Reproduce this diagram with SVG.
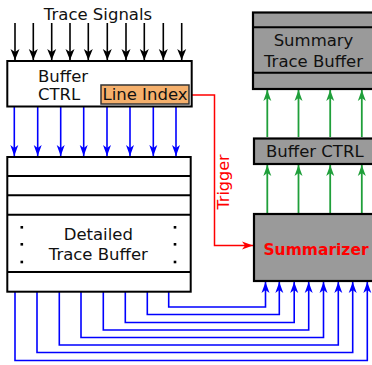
<svg xmlns="http://www.w3.org/2000/svg" width="372" height="365" viewBox="0 0 372 365">
<defs>
<style>
.t{font-family:"DejaVu Sans","Liberation Sans",sans-serif;font-size:16.5px;fill:#111}
.box{fill:#fff;stroke:#000;stroke-width:2}
.gbox{fill:#9a9a9a;stroke:#000;stroke-width:2.2}
.row{stroke:#000;stroke-width:2}
.blk{stroke:#000;stroke-width:1.6;fill:none}
.blu{stroke:#0000ff;stroke-width:1.6;fill:none}
.grn{stroke:#1f9f3a;stroke-width:1.8;fill:none}
.red{stroke:#ff0000;stroke-width:1.5;fill:none}
</style>
<marker id="ak" markerUnits="userSpaceOnUse" markerWidth="14" markerHeight="12" viewBox="-12 -6 14 12" refX="0" refY="0" orient="auto"><path d="M0,0 L-11,-4.5 L-8,0 L-11,4.5 Z" fill="#000"/></marker>
<marker id="ab" markerUnits="userSpaceOnUse" markerWidth="14" markerHeight="12" viewBox="-12 -6 14 12" refX="0" refY="0" orient="auto"><path d="M0,0 L-11,-4 L-8,0 L-11,4 Z" fill="#0000ff"/></marker>
<marker id="ag" markerUnits="userSpaceOnUse" markerWidth="14" markerHeight="12" viewBox="-12 -6 14 12" refX="0" refY="0" orient="auto"><path d="M0,0 L-11,-4 L-8,0 L-11,4 Z" fill="#1f9f3a"/></marker>
<marker id="ar" markerUnits="userSpaceOnUse" markerWidth="14" markerHeight="12" viewBox="-12 -6 14 12" refX="0" refY="0" orient="auto"><path d="M0,0 L-11,-4 L-8,0 L-11,4 Z" fill="#ff0000"/></marker>
</defs>
<rect width="372" height="365" fill="#fff"/>

<text class="t" x="98" y="20" text-anchor="middle" font-size="16">Trace Signals</text>

<g id="connectors">
<g class="blk" marker-end="url(#ak)">
<path d="M15,23 V60"/><path d="M33.3,23 V60"/><path d="M51.7,23 V60"/><path d="M70,23 V60"/><path d="M88.3,23 V60"/><path d="M107.3,23 V60"/><path d="M126,23 V60"/><path d="M144.3,23 V60"/><path d="M163.3,23 V60"/><path d="M181.7,23 V60"/>
</g>
<g class="blu" marker-end="url(#ab)">
<path d="M14.3,107 V156"/><path d="M37.7,107 V156"/><path d="M60.7,107 V156"/><path d="M83.7,107 V156"/><path d="M107,107 V156"/><path d="M130,107 V156"/><path d="M153.3,107 V156"/><path d="M176,107 V156"/>
</g>
<g class="blu" marker-end="url(#ab)">
<path d="M15,292 V360.5 H367.3 V282"/>
<path d="M37,292 V352.5 H352.7 V282"/>
<path d="M59.3,292 V345 H338.3 V282"/>
<path d="M81,292 V337.5 H323.5 V282"/>
<path d="M103.3,292 V330 H308.7 V282"/>
<path d="M125.3,292 V322.5 H294.2 V282"/>
<path d="M147.3,292 V314.5 H279.3 V282"/>
<path d="M168.7,292 V307 H265.5 V282"/>
</g>
<g class="grn" marker-end="url(#ag)">
<path d="M267.3,213 V165"/><path d="M298.5,213 V165"/><path d="M330.2,213 V165"/><path d="M361.8,213 V165"/>
<path d="M267.3,137 V90"/><path d="M298.5,137 V90"/><path d="M330.2,137 V90"/><path d="M361.8,137 V90"/>
</g>
<path class="red" d="M189,95 H214.5 V245.5 H253" marker-end="url(#ar)"/>
<text x="229" y="182" transform="rotate(-90 229 182)" text-anchor="middle" style="font-family:'DejaVu Sans','Liberation Sans',sans-serif;font-size:16px;fill:#ff0000">Trigger</text>
</g>

<g id="buffer-ctrl-left">
<rect class="box" x="7.3" y="61" width="184.4" height="45.5"/>
<text class="t" x="38" y="81.5" font-size="16">Buffer</text>
<text class="t" x="38" y="100" font-size="16">CTRL</text>
</g>

<g id="line-index">
<rect x="101" y="85" width="88" height="19" fill="#f5b06c" stroke="#333" stroke-width="1.5"/>
<text class="t" x="145" y="100" text-anchor="middle" font-size="15.5">Line Index</text>
</g>

<g id="detailed-trace-buffer">
<rect class="box" x="7.3" y="157" width="183.4" height="134.7"/>
<path class="row" d="M7.3,176 H190.7 M7.3,195.3 H190.7 M7.3,214.7 H190.7 M7.3,272 H190.7"/>
<g fill="#000">
<rect x="20.5" y="226" width="2.6" height="2.6"/><rect x="20.5" y="243" width="2.6" height="2.6"/><rect x="20.5" y="260.7" width="2.6" height="2.6"/>
<rect x="173.7" y="226" width="2.6" height="2.6"/><rect x="173.7" y="243" width="2.6" height="2.6"/><rect x="173.7" y="260.7" width="2.6" height="2.6"/>
</g>
<text class="t" x="98.3" y="240" text-anchor="middle" font-size="17">Detailed</text>
<text class="t" x="98.3" y="259.5" text-anchor="middle" font-size="17">Trace Buffer</text>
</g>

<g id="summary-trace-buffer">
<rect class="gbox" x="253" y="12.5" width="130" height="76.5"/>
<path class="row" d="M253,27.3 H383 M253,72.7 H383"/>
<text class="t" x="313.5" y="45.7" text-anchor="middle">Summary</text>
<text class="t" x="313.5" y="66.7" text-anchor="middle">Trace Buffer</text>
</g>

<g id="buffer-ctrl-right">
<rect class="gbox" x="254" y="138.5" width="130" height="25.5"/>
<text class="t" x="266" y="157" font-size="17">Buffer CTRL</text>
</g>

<g id="summarizer">
<rect class="gbox" x="254" y="214" width="130" height="67" stroke-width="2.5"/>
<text x="316" y="255" text-anchor="middle" style="font-family:'DejaVu Sans','Liberation Sans',sans-serif;font-size:15.5px;font-weight:bold;fill:#ff0000">Summarizer</text>
</g>
</svg>
